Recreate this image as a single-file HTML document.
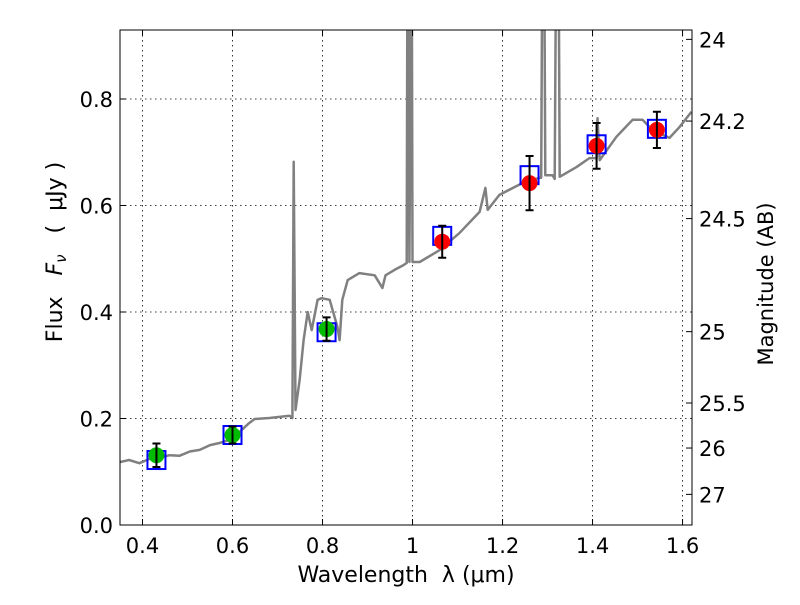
<!DOCTYPE html>
<html><head><meta charset="utf-8"><style>
body{margin:0;background:#fff}
svg{font-family:"DejaVu Sans","Liberation Sans",sans-serif}
</style></head><body>
<svg id="chart" width="800" height="600" viewBox="0 0 800 600" xmlns="http://www.w3.org/2000/svg">
<defs><clipPath id="clip"><rect x="120" y="30" width="572" height="495"/></clipPath></defs>
<rect x="0" y="0" width="800" height="600" fill="#fff"/>
<g id="grid"></g>
<g id="spec" clip-path="url(#clip)"></g>
<g id="marks"></g>
<rect x="120" y="30" width="572" height="495" fill="none" stroke="#000" stroke-width="1"/>
<g id="axes"></g>
<text x="406" y="582" font-size="22" text-anchor="middle" xml:space="preserve">Wavelength  λ (μm)</text>
<text transform="translate(62,252) rotate(-90)" font-size="22" text-anchor="middle" xml:space="preserve">Flux   <tspan font-style="italic">F</tspan><tspan font-style="italic" font-size="15" dy="4">ν</tspan><tspan dy="-4">   (  μJy )</tspan></text>
<text transform="translate(773,284) rotate(-90)" font-size="21" text-anchor="middle">Magnitude (AB)</text>
</svg>
<script>
const specLam=[0.349,0.370,0.393,0.415,0.438,0.460,0.482,0.505,0.527,0.550,0.571,0.595,0.616,0.635,0.649,0.682,0.727,0.733,0.736,0.740,0.749,0.758,0.767,0.776,0.789,0.798,0.816,0.833,0.838,0.844,0.856,0.882,0.916,0.933,0.940,0.960,0.980,0.987,0.989,0.993,0.998,1.000,1.016,1.060,1.104,1.149,1.162,1.167,1.193,1.244,1.282,1.286,1.289,1.292,1.295,1.311,1.316,1.320,1.324,1.327,1.364,1.393,1.409,1.411,1.416,1.453,1.489,1.511,1.533,1.571,1.593,1.620];
const specFlux=[0.118,0.122,0.116,0.124,0.126,0.131,0.130,0.138,0.141,0.150,0.154,0.160,0.175,0.190,0.199,0.201,0.205,0.201,0.682,0.216,0.272,0.347,0.400,0.366,0.423,0.426,0.423,0.372,0.347,0.423,0.460,0.473,0.469,0.445,0.469,0.479,0.488,0.492,1.2,0.494,1.2,0.494,0.494,0.516,0.548,0.588,0.633,0.592,0.620,0.642,0.652,0.652,1.2,1.2,0.657,0.657,0.650,1.2,1.2,0.654,0.672,0.689,0.689,0.764,0.685,0.729,0.761,0.761,0.742,0.727,0.747,0.776];
const obsLam=[0.431,0.600,0.809,1.066,1.260,1.409,1.543];
const obsFlux=[0.131,0.169,0.368,0.532,0.642,0.712,0.742];
const obsErr=[0.022,0.016,0.022,0.030,0.051,0.043,0.034];
const obsColor=["#00bb00","#00bb00","#00bb00","#ff0000","#ff0000","#ff0000","#ff0000"];
const modelFlux=[0.122,0.169,0.362,0.543,0.657,0.715,0.744];
const xTicks=[0.4,0.6,0.8,1.0,1.2,1.4,1.6];
const xTickLabels=["0.4","0.6","0.8","1","1.2","1.4","1.6"];
const yTicks=[0.0,0.2,0.4,0.6,0.8];
const yTickLabels=["0.0","0.2","0.4","0.6","0.8"];
const magTicks=[24,24.2,24.5,25,25.5,26,27];
const magTickLabels=["24","24.2","24.5","25","25.5","26","27"];
const X0=120,X1=692,Y0=525,Y1=30,xmin=0.35,xmax=1.621,ymin=0,ymax=0.9296;
const sx=v=>X0+(v-xmin)/(xmax-xmin)*(X1-X0);
const sy=v=>Y0-(v-ymin)/(ymax-ymin)*(Y0-Y1);
const NS="http://www.w3.org/2000/svg";
function mk(tag,attrs,parent){const e=document.createElementNS(NS,tag);for(const k in attrs)e.setAttribute(k,attrs[k]);parent.appendChild(e);return e;}
const grid=document.getElementById('grid'),axes=document.getElementById('axes'),spec=document.getElementById('spec'),marks=document.getElementById('marks');
xTicks.forEach((t,i)=>{const x=sx(t);
 const g=mk('line',{x1:x,x2:x,y1:Y1,y2:Y0,stroke:'#000','stroke-width':0.8,'stroke-dasharray':'1.5,3.5'},grid);
 
 
 mk('line',{x1:x,x2:x,y1:Y0,y2:Y0-6,stroke:'#000'},axes);
 mk('line',{x1:x,x2:x,y1:Y1,y2:Y1+6,stroke:'#000'},axes);
 const tx=mk('text',{x:x,y:Y0+28,'font-size':21,'text-anchor':'middle'},axes);tx.textContent=xTickLabels[i];
 
 });
yTicks.forEach((t,i)=>{const y=sy(t);
 if(t>0){const g=mk('line',{x1:X0,x2:X1,y1:y,y2:y,stroke:'#000','stroke-width':0.8,'stroke-dasharray':'1.5,3.5'},grid);
 
 }
 mk('line',{x1:X0,x2:X0+6,y1:y,y2:y,stroke:'#000'},axes);
 const tx=mk('text',{x:X0-7,y:y+8,'font-size':21,'text-anchor':'end'},axes);tx.textContent=yTickLabels[i];
 
 });
magTicks.forEach((m,i)=>{const y=sy(Math.pow(10,(23.9-m)/2.5));
 mk('line',{x1:X1,x2:X1-6,y1:y,y2:y,stroke:'#000'},axes);
 const tx=mk('text',{x:X1+7,y:y+8,'font-size':21},axes);tx.textContent=magTickLabels[i];
 
 });
const pts=specLam.map((l,i)=>sx(l).toFixed(1)+','+sy(specFlux[i]).toFixed(1)).join(' ');
const pl=mk('polyline',{points:pts,fill:'none',stroke:'#808080','stroke-width':2.5,'stroke-linejoin':'round'},spec);


obsLam.forEach((l,i)=>{const x=sx(l);
 const b=mk('rect',{x:x-9,y:sy(modelFlux[i])-9,width:18,height:18,fill:'none',stroke:'#0000ff','stroke-width':2},marks);
 
 
 const c=mk('circle',{cx:x,cy:sy(obsFlux[i]),r:8,fill:obsColor[i]},marks);
 
 
 const yt=sy(obsFlux[i]+obsErr[i]),yb=sy(obsFlux[i]-obsErr[i]);
 const e=mk('path',{d:`M${x},${yt}V${yb}M${x-4},${yt}H${x+4}M${x-4},${yb}H${x+4}`,stroke:'#000','stroke-width':2,fill:'none'},marks);
 
 });
</script>
</body></html>
